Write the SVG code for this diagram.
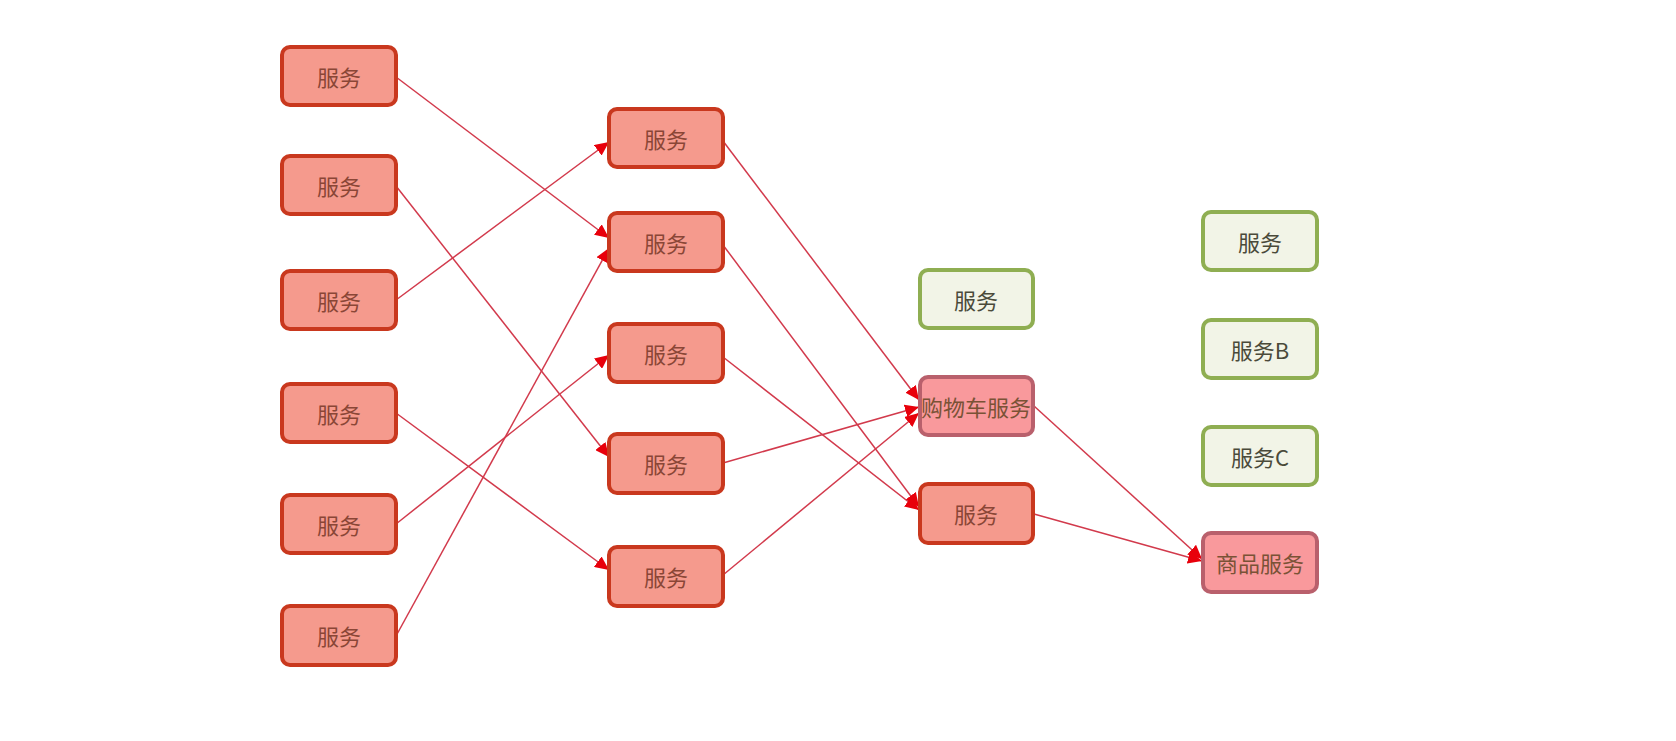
<svg xmlns="http://www.w3.org/2000/svg" width="1676" height="741" viewBox="0 0 1676 741">
<style>
.red rect{fill:#F59A8D;stroke:#C9381E;stroke-width:4}
.green rect{fill:#F2F4E7;stroke:#8FAE52;stroke-width:4}
.pink rect{fill:#F9999C;stroke:#B9606C;stroke-width:4}
text{font-family:"Noto Sans CJK SC","Noto Sans",sans-serif;font-size:22px;text-anchor:middle;dominant-baseline:central}
.red text{fill:#8A4636}
.pink text{fill:#7A5236}
.green text{fill:#4A4A3A}
.edges line{stroke:#D23A4C;stroke-width:1.5;fill:none;marker-end:url(#arr)}
</style>
<defs>
<marker id="arr" markerUnits="userSpaceOnUse" markerWidth="15" markerHeight="13" refX="14" refY="6.5" orient="auto">
<path d="M0,0 L14,6.5 L0,13 z" fill="#E8000B"/>
</marker>
</defs>
<rect width="1676" height="741" fill="#FFFFFF"/>
<g class="edges">
<line x1="396" y1="77" x2="609" y2="238"/>
<line x1="396" y1="186" x2="609" y2="457"/>
<line x1="396" y1="300" x2="609" y2="142"/>
<line x1="396" y1="413" x2="609" y2="570"/>
<line x1="396" y1="524" x2="609" y2="355"/>
<line x1="396" y1="636" x2="609" y2="248"/>
<line x1="723" y1="141" x2="919" y2="400"/>
<line x1="723" y1="245" x2="919" y2="507"/>
<line x1="723" y1="357" x2="919" y2="510"/>
<line x1="723" y1="463" x2="919" y2="407"/>
<line x1="723" y1="575" x2="919" y2="413"/>
<line x1="1034" y1="406" x2="1202" y2="559"/>
<line x1="1034" y1="514" x2="1202" y2="561"/>
</g>
<g id="l1" class="red"><rect x="282" y="47" width="114" height="58" rx="8"/><text x="339" y="76">服务</text></g>
<g id="l2" class="red"><rect x="282" y="156" width="114" height="58" rx="8"/><text x="339" y="185">服务</text></g>
<g id="l3" class="red"><rect x="282" y="271" width="114" height="58" rx="8"/><text x="339" y="300">服务</text></g>
<g id="l4" class="red"><rect x="282" y="384" width="114" height="58" rx="8"/><text x="339" y="413">服务</text></g>
<g id="l5" class="red"><rect x="282" y="495" width="114" height="58" rx="8"/><text x="339" y="524">服务</text></g>
<g id="l6" class="red"><rect x="282" y="606" width="114" height="59" rx="8"/><text x="339" y="635">服务</text></g>
<g id="m1" class="red"><rect x="609" y="109" width="114" height="58" rx="8"/><text x="666" y="138">服务</text></g>
<g id="m2" class="red"><rect x="609" y="213" width="114" height="58" rx="8"/><text x="666" y="242">服务</text></g>
<g id="m3" class="red"><rect x="609" y="324" width="114" height="58" rx="8"/><text x="666" y="353">服务</text></g>
<g id="m4" class="red"><rect x="609" y="434" width="114" height="59" rx="8"/><text x="666" y="463">服务</text></g>
<g id="m5" class="red"><rect x="609" y="547" width="114" height="59" rx="8"/><text x="666" y="576">服务</text></g>
<g id="g1" class="green"><rect x="920" y="270" width="113" height="58" rx="8"/><text x="976" y="299">服务</text></g>
<g id="cart" class="pink"><rect x="920" y="377" width="113" height="58" rx="8"/><text x="976" y="406">购物车服务</text></g>
<g id="s3" class="red"><rect x="920" y="484" width="113" height="59" rx="8"/><text x="976" y="513">服务</text></g>
<g id="r1" class="green"><rect x="1203" y="212" width="114" height="58" rx="8"/><text x="1260" y="241">服务</text></g>
<g id="rb" class="green"><rect x="1203" y="320" width="114" height="58" rx="8"/><text x="1260" y="349">服务B</text></g>
<g id="rc" class="green"><rect x="1203" y="427" width="114" height="58" rx="8"/><text x="1260" y="456">服务C</text></g>
<g id="goods" class="pink"><rect x="1203" y="533" width="114" height="59" rx="8"/><text x="1260" y="562">商品服务</text></g>
</svg>
